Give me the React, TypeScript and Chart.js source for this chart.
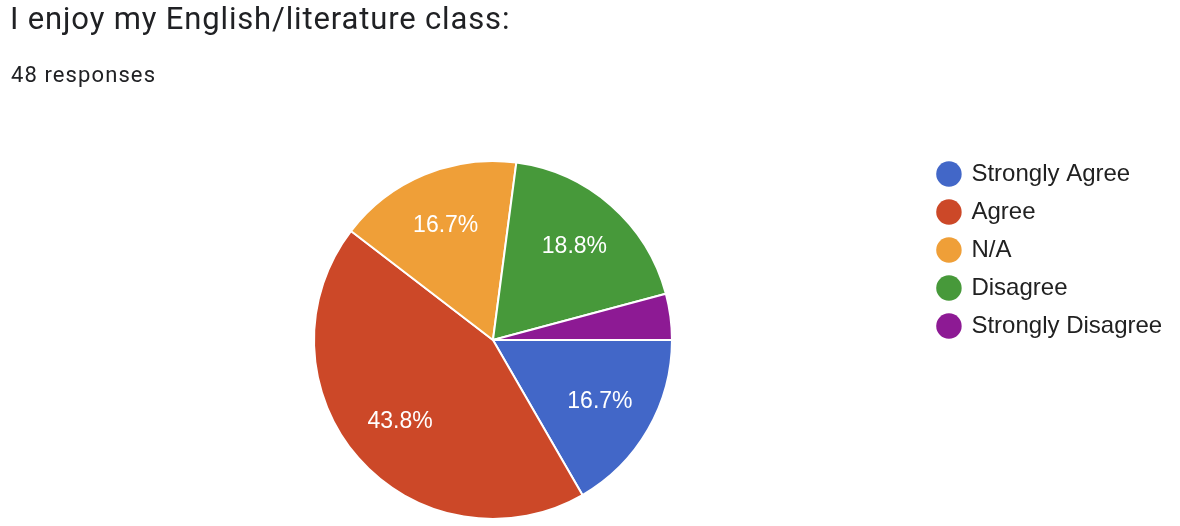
import React, { useEffect, useRef } from 'react';
import { Chart, registerables } from 'chart.js';

Chart.register(...registerables);

const titleText = 'I enjoy my English/literature class:';
const subtitleText = '48 responses';
const categories = ['Strongly Agree', 'Agree', 'N/A', 'Disagree', 'Strongly Disagree'];
const responses = [8, 21, 8, 9, 2];
const sliceColors = ['#4267C8', '#CC4828', '#EF9F38', '#47993A', '#8D1A94'];

const sliceLabelPlugin = {
  id: 'sliceLabels',
  afterDatasetsDraw(chart: any) {
    const ctx = chart.ctx;
    const meta = chart.getDatasetMeta(0);
    const data = chart.data.datasets[0].data as number[];
    const total = data.reduce((a, b) => a + b, 0);
    ctx.save();
    ctx.font = '23px "Liberation Sans", Arial, sans-serif';
    ctx.fillStyle = '#ffffff';
    ctx.textAlign = 'center';
    ctx.textBaseline = 'middle';
    meta.data.forEach((arc: any, i: number) => {
      const pct = (data[i] / total) * 100;
      if (pct < 5) return;
      const p = arc.getProps(['x', 'y', 'startAngle', 'endAngle', 'outerRadius'], true);
      const mid = (p.startAngle + p.endAngle) / 2;
      const r = p.outerRadius * 0.69;
      ctx.fillText(pct.toFixed(1) + '%', p.x + Math.cos(mid) * r, p.y + Math.sin(mid) * r);
    });
    ctx.restore();
  },
};

export default function App() {
  const canvasRef = useRef<HTMLCanvasElement | null>(null);

  useEffect(() => {
    document.body.style.margin = '0';
    document.body.style.overflow = 'hidden';
    const canvas = canvasRef.current;
    if (!canvas) return;
    const chart = new Chart(canvas, {
      type: 'pie',
      data: {
        labels: categories,
        datasets: [
          {
            data: responses,
            backgroundColor: sliceColors,
            borderColor: '#ffffff',
            borderWidth: 2,
          },
        ],
      },
      options: {
        responsive: false,
        animation: false,
        devicePixelRatio: 1,
        rotation: 90,
        radius: 179,
        layout: { padding: { top: 148, bottom: 8, left: 61.5, right: 7.8 } },
        plugins: {
          tooltip: { enabled: false },
          legend: {
            position: 'right',
            align: 'start',
            labels: {
              usePointStyle: true,
              pointStyle: 'circle',
              boxWidth: 21,
              boxHeight: 18,
              padding: 14,
              color: '#212121',
              font: { family: '"Liberation Sans", Arial, sans-serif', size: 24 },
              generateLabels: (c: any) => {
                const base = (Chart as any).overrides.pie.plugins.legend.labels.generateLabels(c);
                return base.map((item: any) => ({ ...item, lineWidth: 0, strokeStyle: 'rgba(0,0,0,0)' }));
              },
            },
          },
        },
      } as any,
      plugins: [sliceLabelPlugin],
    });
    return () => chart.destroy();
  }, []);

  return (
    <div style={{ position: 'relative', width: 1180, height: 540, background: '#ffffff' }}>
      <canvas
        ref={canvasRef}
        width={1180}
        height={540}
        style={{ position: 'absolute', left: 0, top: 0, display: 'block', width: 1180, height: 540 }}
      />
      <div
        style={{
          position: 'absolute',
          left: 10,
          top: 3,
          fontFamily: 'Roboto, sans-serif',
          fontSize: 31,
          lineHeight: '32px',
          letterSpacing: '0.85px',
          color: '#202124',
          whiteSpace: 'nowrap',
        }}
      >
        {titleText}
      </div>
      <div
        style={{
          position: 'absolute',
          left: 11,
          top: 63,
          fontFamily: 'Roboto, sans-serif',
          fontSize: 22,
          lineHeight: '24px',
          letterSpacing: '1.1px',
          color: '#202124',
          whiteSpace: 'nowrap',
        }}
      >
        {subtitleText}
      </div>
    </div>
  );
}
